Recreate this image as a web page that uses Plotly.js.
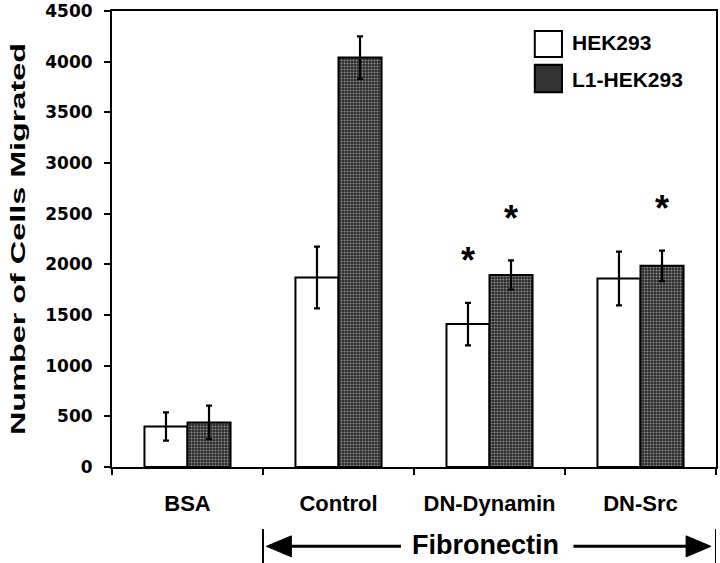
<!DOCTYPE html>
<html>
<head>
<meta charset="utf-8">
<script src="https://cdn.plot.ly/plotly-3.0.1.min.js"></script>
<style>
  html, body { margin:0; padding:0; background:#fff; }
  #chart { width:720px; height:563px; }
</style>
</head>
<body>
<div id="chart"></div>
<script>
const categories = ['BSA', 'Control', 'DN-Dynamin', 'DN-Src'];
const hek = [400, 1870, 1410, 1860];
const hekErr = [140, 305, 210, 265];
const l1 = [440, 4040, 1895, 1985];
const l1Err = [165, 210, 145, 150];
// significant bars: [category index, series]
const stars = [[2, 'hek'], [2, 'l1'], [3, 'l1']];
const yTicks = [0, 500, 1000, 1500, 2000, 2500, 3000, 3500, 4000, 4500];

const font = 'Liberation Sans, Arial, sans-serif';
const halfBar = 0.142;   // bar centre offset from category centre (category units)

const bar = (name, y, err, fill, pattern) => ({
  type:'bar', name, x: categories, y,
  marker:{color: fill, line:{color:'#000', width:2}, pattern},
  error_y:{type:'data', array: err, visible:true, color:'#000', thickness:2.2, width:3},
  showlegend:false, hoverinfo:'skip'
});

const traces = [
  bar('HEK293', hek, hekErr, '#fff'),
  bar('L1-HEK293', l1, l1Err, '#2b2b2b', {shape:'.', fgcolor:'#8f8f8f', bgcolor:'#2a2a2a', size:3, solidity:0.35})
];

const starNotes = stars.map(([i, s]) => {
  const top = s === 'hek' ? hek[i] + hekErr[i] : l1[i] + l1Err[i];
  return {
    x: i + (s === 'hek' ? -halfBar : halfBar), y: top, xref:'x', yref:'y',
    text:'*', showarrow:false, yshift:42,
    font:{family:font, size:36, color:'#000', weight:'bold'}
  };
});

// legend drawn by hand so the swatches are the size of the original
const legendNotes = [
  {x:0.758, y:0.930, text:'HEK293'},
  {x:0.758, y:0.849, text:'L1-HEK293'}
].map(d => ({...d, xref:'paper', yref:'paper', xanchor:'left', yanchor:'middle', showarrow:false,
  font:{family:font, size:21, color:'#000', weight:'bold'}}));

const shapes = [
  {type:'rect', xref:'paper', yref:'paper', x0:0.700, x1:0.745, y0:0.899, y1:0.956, fillcolor:'#fff', line:{color:'#000', width:2}},
  {type:'rect', xref:'paper', yref:'paper', x0:0.700, x1:0.745, y0:0.822, y1:0.882, fillcolor:'#333', line:{color:'#000', width:2}},
  // Fibronectin bracket
  {type:'line', xref:'x', yref:'paper', x0:0.5, x1:0.5, y0:-0.136, y1:-0.215, line:{color:'#000', width:2}},
  {type:'line', xref:'x', yref:'paper', x0:3.5, x1:3.5, y0:-0.136, y1:-0.215, line:{color:'#000', width:2}},
  {type:'line', xref:'x', yref:'paper', x0:0.68, x1:1.414, y0:-0.174, y1:-0.174, line:{color:'#000', width:3}},
  {type:'line', xref:'x', yref:'paper', x0:2.556, x1:3.31, y0:-0.174, y1:-0.174, line:{color:'#000', width:3}},
  {type:'path', xref:'x', yref:'paper', path:'M0.523,-0.174 L0.688,-0.151 L0.688,-0.197 Z', fillcolor:'#000', line:{color:'#000', width:1}},
  {type:'path', xref:'x', yref:'paper', path:'M3.467,-0.174 L3.302,-0.151 L3.302,-0.197 Z', fillcolor:'#000', line:{color:'#000', width:1}}
];

const layout = {
  width:720, height:563,
  margin:{l:112, r:4, t:11, b:96},
  paper_bgcolor:'#fff', plot_bgcolor:'#fff',
  font:{family:font, color:'#000'},
  barmode:'group', bargap:0.43, bargroupgap:0,
  showlegend:false,
  xaxis:{
    type:'category', range:[-0.5, 3.5],
    showline:true, linecolor:'#000', linewidth:2, mirror:true,
    ticks:'outside', tickson:'boundaries', ticklen:6, tickwidth:2, tickcolor:'#000',
    showgrid:false, ticklabelstandoff:16,
    tickfont:{family:font, size:22, color:'#000', weight:'bold'}
  },
  yaxis:{
    range:[0, 4500], tickvals:yTicks, ticktext:yTicks.map(String),
    showline:true, linecolor:'#000', linewidth:2, mirror:true,
    ticks:'outside', ticklen:6, tickwidth:2, tickcolor:'#000',
    showgrid:false, zeroline:false, ticklabelstandoff:8,
    tickfont:{family:'DejaVu Sans, sans-serif', size:17, color:'#000', weight:'bold'},
    title:{text:'Number of Cells Migrated', standoff:14,
      font:{family:font, size:21, color:'#000', weight:'bold'}}
  },
  annotations:[
    ...starNotes,
    ...legendNotes,
    {x:1.975, y:-0.172, xref:'x', yref:'paper', text:'Fibronectin', showarrow:false,
      xanchor:'center', yanchor:'middle', font:{family:font, size:27, color:'#000', weight:'bold'}}
  ],
  shapes
};

Plotly.newPlot('chart', traces, layout, {displayModeBar:false, staticPlot:true}).then(gd => {
  // the original axis title is set in a wide face; stretch it to the same length
  const t = gd.querySelector('.ytitle');
  if (t) {
    t.setAttribute('textLength', 392);
    t.setAttribute('lengthAdjust', 'spacingAndGlyphs');
  }
});
</script>
</body>
</html>
